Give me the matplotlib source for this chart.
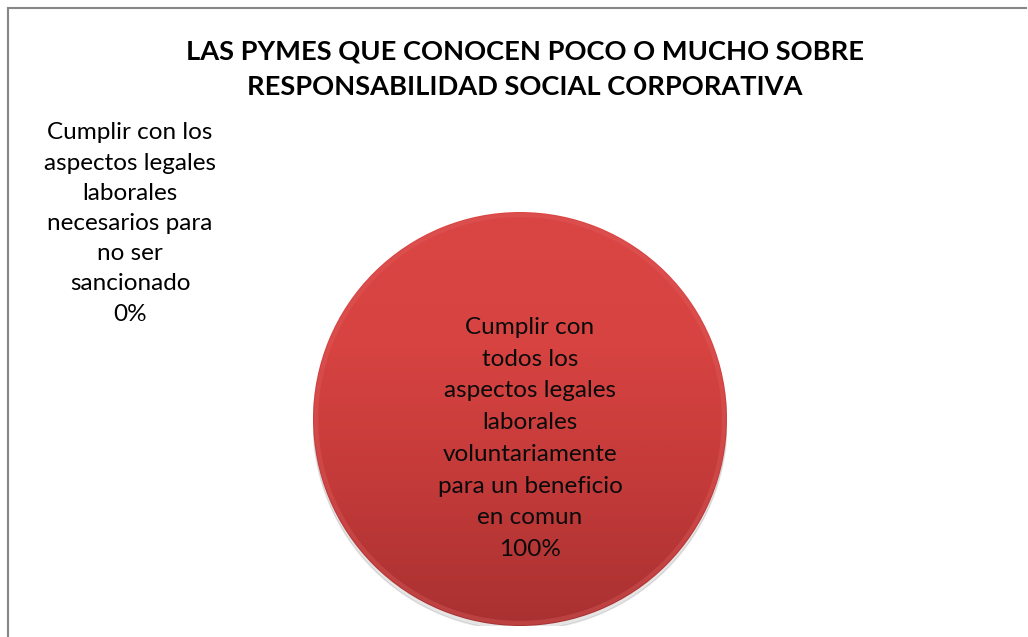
import matplotlib
matplotlib.use("Agg")
import matplotlib.pyplot as plt
import numpy as np
from matplotlib.lines import Line2D
from matplotlib.colors import LinearSegmentedColormap

plt.rcParams["font.family"] = ["Lato", "DejaVu Sans"]

# datos de la encuesta
categorias = [
    "Cumplir con los\naspectos legales\nlaborales\nnecesarios para\nno ser\nsancionado",
    "Cumplir con\ntodos los\naspectos legales\nlaborales\nvoluntariamente\npara un beneficio\nen comun",
]
valores = [0, 100]
titulo = "LAS PYMES QUE CONOCEN POCO O MUCHO SOBRE\nRESPONSABILIDAD SOCIAL CORPORATIVA"

W, H = 1028, 637
fig = plt.figure(figsize=(W / 100, H / 100), dpi=100)
fig.patch.set_facecolor("white")

# borde del grafico (solo arriba e izquierda visibles)
fig.add_artist(Line2D([7.5 / W, 7.5 / W], [0, 1 - 7.5 / H], transform=fig.transFigure,
                      color="#868686", lw=1.5))
fig.add_artist(Line2D([7.5 / W, 1026 / W], [1 - 7.5 / H, 1 - 7.5 / H], transform=fig.transFigure,
                      color="#868686", lw=1.5))

fig.text(525 / W, 1 - 69 / H, titulo, ha="center", va="center", fontsize=19.6,
         fontweight="bold", linespacing=1.56)

cx, cy, r = 520, 419, 207
ax = fig.add_axes([(cx - r) / W, (H - cy - r) / H, 2 * r / W, 2 * r / H])

# sombra ligera
shadow = plt.Circle((0.0, -0.02), 1.0, color="#000000", alpha=0.10, zorder=0)
ax.add_patch(shadow)

wedges, _ = ax.pie(valores, startangle=90, counterclock=False, radius=1.0,
                   colors=["#c0504d", "#c0504d"],
                   wedgeprops=dict(linewidth=0))

# degradado vertical sobre la porcion
cmap = LinearSegmentedColormap.from_list("rojo", ["#a93131", "#c23a39", "#d64341", "#da4644"])
grad = np.linspace(0, 1, 256).reshape(-1, 1)
for w, v in zip(wedges, valores):
    if v == 0:
        continue
    w.set_facecolor("none")
    im = ax.imshow(grad, cmap=cmap, extent=[-1, 1, -1, 1], origin="lower",
                   aspect="auto", zorder=1)
    im.set_clip_path(w)
    # borde suave
    rim = plt.Circle((0, 0), 0.985, fill=False, ec="#e06060", lw=3, alpha=0.35, zorder=2)
    ax.add_patch(rim)
    rim.set_clip_path(w)
ax.set_xlim(-1, 1)
ax.set_ylim(-1, 1)
ax.set_aspect("equal")
ax.axis("off")

total = sum(valores)
pct = [f"{v / total * 100:.0f}%" for v in valores]

fig.text(130 / W, 1 - 223.5 / H, categorias[0] + "\n" + pct[0], ha="center", va="center",
         fontsize=17.5, linespacing=1.54)
fig.text(530 / W, 1 - 438.5 / H, categorias[1] + "\n" + pct[1], ha="center", va="center",
         fontsize=17.5, linespacing=1.63, color="#0a0a0a", zorder=5)

fig.savefig("out.png", dpi=100, facecolor="white")
